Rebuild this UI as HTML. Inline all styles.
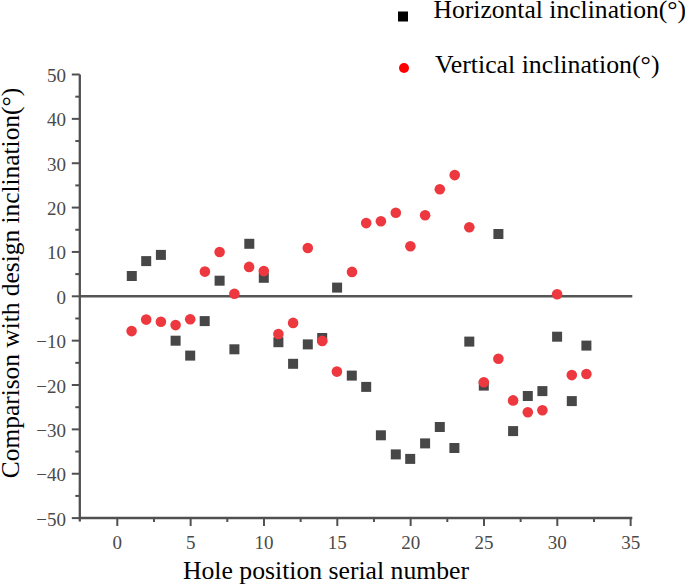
<!DOCTYPE html>
<html><head><meta charset="utf-8"><style>
html,body{margin:0;padding:0;background:#fff;}
body{width:685px;height:585px;overflow:hidden;}
svg{display:block;}
text{font-family:"Liberation Serif",serif;}
</style></head><body>
<svg width="685" height="585" viewBox="0 0 685 585">

<line x1="79.8" y1="296.3" x2="632.3" y2="296.3" stroke="#555" stroke-width="2.4"/>
<line x1="79.8" y1="74.5" x2="79.8" y2="521.5" stroke="#505050" stroke-width="2.3"/>
<line x1="78.8" y1="518.0" x2="632.3" y2="518.0" stroke="#505050" stroke-width="2.3"/>
<line x1="71.8" y1="518.10" x2="79.8" y2="518.10" stroke="#505050" stroke-width="2"/>
<text x="66" y="525.60" font-size="19" fill="#4a4a4a" text-anchor="end">−50</text>
<line x1="75.3" y1="495.92" x2="79.8" y2="495.92" stroke="#505050" stroke-width="2"/>
<line x1="71.8" y1="473.74" x2="79.8" y2="473.74" stroke="#505050" stroke-width="2"/>
<text x="66" y="481.24" font-size="19" fill="#4a4a4a" text-anchor="end">−40</text>
<line x1="75.3" y1="451.56" x2="79.8" y2="451.56" stroke="#505050" stroke-width="2"/>
<line x1="71.8" y1="429.38" x2="79.8" y2="429.38" stroke="#505050" stroke-width="2"/>
<text x="66" y="436.88" font-size="19" fill="#4a4a4a" text-anchor="end">−30</text>
<line x1="75.3" y1="407.20" x2="79.8" y2="407.20" stroke="#505050" stroke-width="2"/>
<line x1="71.8" y1="385.02" x2="79.8" y2="385.02" stroke="#505050" stroke-width="2"/>
<text x="66" y="392.52" font-size="19" fill="#4a4a4a" text-anchor="end">−20</text>
<line x1="75.3" y1="362.84" x2="79.8" y2="362.84" stroke="#505050" stroke-width="2"/>
<line x1="71.8" y1="340.66" x2="79.8" y2="340.66" stroke="#505050" stroke-width="2"/>
<text x="66" y="348.16" font-size="19" fill="#4a4a4a" text-anchor="end">−10</text>
<line x1="75.3" y1="318.48" x2="79.8" y2="318.48" stroke="#505050" stroke-width="2"/>
<line x1="71.8" y1="296.30" x2="79.8" y2="296.30" stroke="#505050" stroke-width="2"/>
<text x="66" y="303.80" font-size="19" fill="#4a4a4a" text-anchor="end">0</text>
<line x1="75.3" y1="274.12" x2="79.8" y2="274.12" stroke="#505050" stroke-width="2"/>
<line x1="71.8" y1="251.94" x2="79.8" y2="251.94" stroke="#505050" stroke-width="2"/>
<text x="66" y="259.44" font-size="19" fill="#4a4a4a" text-anchor="end">10</text>
<line x1="75.3" y1="229.76" x2="79.8" y2="229.76" stroke="#505050" stroke-width="2"/>
<line x1="71.8" y1="207.58" x2="79.8" y2="207.58" stroke="#505050" stroke-width="2"/>
<text x="66" y="215.08" font-size="19" fill="#4a4a4a" text-anchor="end">20</text>
<line x1="75.3" y1="185.40" x2="79.8" y2="185.40" stroke="#505050" stroke-width="2"/>
<line x1="71.8" y1="163.22" x2="79.8" y2="163.22" stroke="#505050" stroke-width="2"/>
<text x="66" y="170.72" font-size="19" fill="#4a4a4a" text-anchor="end">30</text>
<line x1="75.3" y1="141.04" x2="79.8" y2="141.04" stroke="#505050" stroke-width="2"/>
<line x1="71.8" y1="118.86" x2="79.8" y2="118.86" stroke="#505050" stroke-width="2"/>
<text x="66" y="126.36" font-size="19" fill="#4a4a4a" text-anchor="end">40</text>
<line x1="75.3" y1="96.68" x2="79.8" y2="96.68" stroke="#505050" stroke-width="2"/>
<line x1="71.8" y1="74.50" x2="79.8" y2="74.50" stroke="#505050" stroke-width="2"/>
<text x="66" y="82.00" font-size="19" fill="#4a4a4a" text-anchor="end">50</text>
<line x1="117.30" y1="518.0" x2="117.30" y2="526.0" stroke="#505050" stroke-width="2"/>
<text x="117.30" y="549" font-size="19" fill="#4a4a4a" text-anchor="middle">0</text>
<line x1="153.97" y1="518.0" x2="153.97" y2="522.0" stroke="#505050" stroke-width="2"/>
<line x1="190.63" y1="518.0" x2="190.63" y2="526.0" stroke="#505050" stroke-width="2"/>
<text x="190.63" y="549" font-size="19" fill="#4a4a4a" text-anchor="middle">5</text>
<line x1="227.30" y1="518.0" x2="227.30" y2="522.0" stroke="#505050" stroke-width="2"/>
<line x1="263.97" y1="518.0" x2="263.97" y2="526.0" stroke="#505050" stroke-width="2"/>
<text x="263.97" y="549" font-size="19" fill="#4a4a4a" text-anchor="middle">10</text>
<line x1="300.64" y1="518.0" x2="300.64" y2="522.0" stroke="#505050" stroke-width="2"/>
<line x1="337.31" y1="518.0" x2="337.31" y2="526.0" stroke="#505050" stroke-width="2"/>
<text x="337.31" y="549" font-size="19" fill="#4a4a4a" text-anchor="middle">15</text>
<line x1="373.97" y1="518.0" x2="373.97" y2="522.0" stroke="#505050" stroke-width="2"/>
<line x1="410.64" y1="518.0" x2="410.64" y2="526.0" stroke="#505050" stroke-width="2"/>
<text x="410.64" y="549" font-size="19" fill="#4a4a4a" text-anchor="middle">20</text>
<line x1="447.31" y1="518.0" x2="447.31" y2="522.0" stroke="#505050" stroke-width="2"/>
<line x1="483.98" y1="518.0" x2="483.98" y2="526.0" stroke="#505050" stroke-width="2"/>
<text x="483.98" y="549" font-size="19" fill="#4a4a4a" text-anchor="middle">25</text>
<line x1="520.64" y1="518.0" x2="520.64" y2="522.0" stroke="#505050" stroke-width="2"/>
<line x1="557.31" y1="518.0" x2="557.31" y2="526.0" stroke="#505050" stroke-width="2"/>
<text x="557.31" y="549" font-size="19" fill="#4a4a4a" text-anchor="middle">30</text>
<line x1="593.98" y1="518.0" x2="593.98" y2="522.0" stroke="#505050" stroke-width="2"/>
<line x1="630.64" y1="518.0" x2="630.64" y2="526.0" stroke="#505050" stroke-width="2"/>
<text x="630.64" y="549" font-size="19" fill="#4a4a4a" text-anchor="middle">35</text>
<rect x="126.8" y="271.0" width="10" height="10" fill="#474747"/>
<rect x="141.2" y="256.1" width="10" height="10" fill="#474747"/>
<rect x="155.9" y="249.9" width="10" height="10" fill="#474747"/>
<rect x="170.6" y="335.7" width="10" height="10" fill="#474747"/>
<rect x="185.2" y="350.6" width="10" height="10" fill="#474747"/>
<rect x="199.7" y="316.1" width="10" height="10" fill="#474747"/>
<rect x="214.6" y="275.7" width="10" height="10" fill="#474747"/>
<rect x="229.4" y="344.3" width="10" height="10" fill="#474747"/>
<rect x="244.3" y="238.8" width="10" height="10" fill="#474747"/>
<rect x="258.8" y="272.8" width="10" height="10" fill="#474747"/>
<rect x="273.4" y="337.2" width="10" height="10" fill="#474747"/>
<rect x="288.1" y="358.8" width="10" height="10" fill="#474747"/>
<rect x="302.8" y="339.4" width="10" height="10" fill="#474747"/>
<rect x="317.2" y="333.0" width="10" height="10" fill="#474747"/>
<rect x="332.1" y="282.6" width="10" height="10" fill="#474747"/>
<rect x="346.8" y="370.6" width="10" height="10" fill="#474747"/>
<rect x="361.2" y="381.9" width="10" height="10" fill="#474747"/>
<rect x="375.9" y="430.3" width="10" height="10" fill="#474747"/>
<rect x="390.8" y="449.4" width="10" height="10" fill="#474747"/>
<rect x="405.2" y="453.9" width="10" height="10" fill="#474747"/>
<rect x="420.1" y="438.4" width="10" height="10" fill="#474747"/>
<rect x="434.8" y="422.0" width="10" height="10" fill="#474747"/>
<rect x="449.4" y="443.0" width="10" height="10" fill="#474747"/>
<rect x="464.3" y="336.6" width="10" height="10" fill="#474747"/>
<rect x="478.8" y="380.6" width="10" height="10" fill="#474747"/>
<rect x="493.4" y="229.0" width="10" height="10" fill="#474747"/>
<rect x="508.1" y="426.1" width="10" height="10" fill="#474747"/>
<rect x="522.8" y="391.0" width="10" height="10" fill="#474747"/>
<rect x="537.4" y="386.1" width="10" height="10" fill="#474747"/>
<rect x="552.1" y="331.7" width="10" height="10" fill="#474747"/>
<rect x="566.8" y="396.1" width="10" height="10" fill="#474747"/>
<rect x="581.4" y="340.6" width="10" height="10" fill="#474747"/>
<circle cx="131.6" cy="331.1" r="5.3" fill="#ec383e"/>
<circle cx="146.2" cy="319.6" r="5.3" fill="#ec383e"/>
<circle cx="160.9" cy="321.8" r="5.3" fill="#ec383e"/>
<circle cx="175.6" cy="325.1" r="5.3" fill="#ec383e"/>
<circle cx="190.2" cy="319.3" r="5.3" fill="#ec383e"/>
<circle cx="204.9" cy="271.6" r="5.3" fill="#ec383e"/>
<circle cx="219.6" cy="252.0" r="5.3" fill="#ec383e"/>
<circle cx="234.4" cy="293.8" r="5.3" fill="#ec383e"/>
<circle cx="249.1" cy="266.9" r="5.3" fill="#ec383e"/>
<circle cx="263.8" cy="271.1" r="5.3" fill="#ec383e"/>
<circle cx="278.4" cy="334.0" r="5.3" fill="#ec383e"/>
<circle cx="293.1" cy="322.9" r="5.3" fill="#ec383e"/>
<circle cx="307.8" cy="248.0" r="5.3" fill="#ec383e"/>
<circle cx="322.2" cy="340.9" r="5.3" fill="#ec383e"/>
<circle cx="336.9" cy="371.6" r="5.3" fill="#ec383e"/>
<circle cx="352.0" cy="271.9" r="5.3" fill="#ec383e"/>
<circle cx="366.2" cy="223.1" r="5.3" fill="#ec383e"/>
<circle cx="380.9" cy="221.3" r="5.3" fill="#ec383e"/>
<circle cx="395.8" cy="212.7" r="5.3" fill="#ec383e"/>
<circle cx="410.4" cy="246.2" r="5.3" fill="#ec383e"/>
<circle cx="425.1" cy="215.3" r="5.3" fill="#ec383e"/>
<circle cx="439.8" cy="189.3" r="5.3" fill="#ec383e"/>
<circle cx="454.7" cy="175.1" r="5.3" fill="#ec383e"/>
<circle cx="469.3" cy="227.3" r="5.3" fill="#ec383e"/>
<circle cx="483.8" cy="382.2" r="5.3" fill="#ec383e"/>
<circle cx="498.4" cy="358.7" r="5.3" fill="#ec383e"/>
<circle cx="513.1" cy="400.4" r="5.3" fill="#ec383e"/>
<circle cx="527.8" cy="412.2" r="5.3" fill="#ec383e"/>
<circle cx="542.4" cy="410.2" r="5.3" fill="#ec383e"/>
<circle cx="557.1" cy="294.2" r="5.3" fill="#ec383e"/>
<circle cx="571.8" cy="375.1" r="5.3" fill="#ec383e"/>
<circle cx="586.4" cy="374.0" r="5.3" fill="#ec383e"/>
<rect x="398" y="11.5" width="10" height="10" fill="#000"/>
<circle cx="404" cy="68" r="5" fill="#f00"/>
<text x="433.5" y="18.2" font-size="25.6" fill="#000">Horizontal inclination(°)</text>
<text x="435" y="73" font-size="25.8" fill="#000">Vertical inclination(°)</text>
<text x="326" y="578.8" font-size="25.7" fill="#000" text-anchor="middle">Hole position serial number</text>
<text transform="translate(18.7,283) rotate(-90)" x="0" y="0" font-size="25.4" fill="#000" text-anchor="middle">Comparison with design inclination(°)</text>
</svg></body></html>
